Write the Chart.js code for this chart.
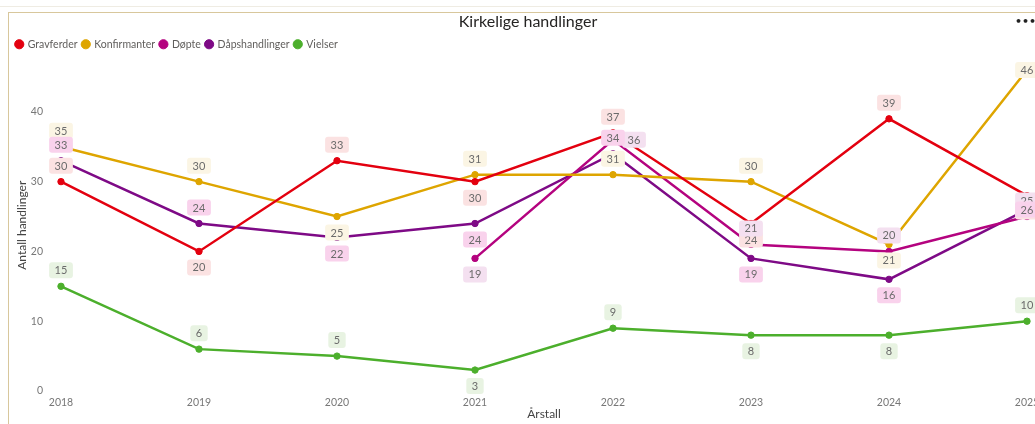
<!DOCTYPE html>
<html>
<head>
<meta charset="utf-8">
<script src="https://cdn.jsdelivr.net/npm/chart.js@4.4.1/dist/chart.umd.min.js"></script>
<style>
    html, body { margin: 0; padding: 0; background: #fff; width: 1035px; height: 424px; overflow: hidden; }
    .topline { position: absolute; left: 0; top: 6px; width: 1035px; height: 1px; background: #efece3; }
    .frame { position: absolute; left: 8px; top: 12px; width: 1100px; height: 500px;
             border-top: 1px solid #d8c79c; border-left: 1px solid #d8c79c; }
    .wrap { position: absolute; left: 9px; top: 13px; width: 1036px; height: 411px; }
    .more { position: absolute; left: 1015px; top: 15px; font: bold 11px "DejaVu Sans"; color: #222; letter-spacing: 0; }
</style>
</head>
<body>
<div class="topline"></div>
<div class="frame"></div>
<div class="wrap"><canvas id="chart"></canvas></div>
<div class="more">•••</div>
<script>
const years = ["2018", "2019", "2020", "2021", "2022", "2023", "2024", "2025"];
const gravferder = [30, 20, 33, 30, 37, 24, 39, 28];
const konfirmanter = [35, 30, 25, 31, 31, 30, 21, 46];
const dopte = [null, null, null, 19, 36, 21, 20, 25];
const daapshandlinger = [33, 24, 22, 24, 34, 19, 16, 26];
const vielser = [15, 6, 5, 3, 9, 8, 8, 10];
const yTicks = [0, 10, 20, 30, 40];

// where each value label sits: a = above, b = below, r = right, c = on the point
const sides = {
    gravferder: ["a", "b", "a", "b", "a", "b", "a", "b"],
    konfirmanter: ["a", "a", "b", "a", "a", "a", "b", "c"],
    dopte: ["a", "a", "a", "b", "r", "a", "a", "a"],
    daapshandlinger: ["a", "a", "b", "b", "a", "b", "b", "c"],
    vielser: ["a", "a", "a", "b", "a", "b", "b", "a"],
};

const FONT = "Lato, 'Open Sans', sans-serif";

function series(label, data, color, labelBg, labelSide) {
    return {
        label, data, labelBg, labelSide,
        borderColor: color,
        backgroundColor: color,
        pointBackgroundColor: color,
        pointBorderColor: color,
        borderWidth: 2.5,
        pointRadius: 3.2,
        pointBorderWidth: 1,
        tension: 0,
        spanGaps: false,
    };
}

const valueLabels = {
    id: "valueLabels",
    afterDatasetsDraw(chart) {
        const ctx = chart.ctx;
        ctx.save();
        ctx.font = "11px " + FONT;
        ctx.textAlign = "center";
        ctx.textBaseline = "middle";
        chart.data.datasets.forEach((ds, i) => {
            const meta = chart.getDatasetMeta(i);
            meta.data.forEach((pt, j) => {
                const v = ds.data[j];
                if (v === null || v === undefined) return;
                let x = pt.x, y = pt.y;
                const side = ds.labelSide[j];
                if (side === "a") y -= 16;
                else if (side === "b") y += 16;
                else if (side === "r") x += 21;
                const txt = String(v);
                const w = ctx.measureText(txt).width + 11;
                const h = 16;
                ctx.fillStyle = ds.labelBg;
                ctx.beginPath();
                ctx.roundRect(x - w / 2, y - h / 2, w, h, 3);
                ctx.fill();
                ctx.fillStyle = "#6b6b6b";
                ctx.fillText(txt, x, y + 0.5);
            });
        });
        ctx.restore();
    }
};

new Chart(document.getElementById("chart"), {
    type: "line",
    data: {
        labels: years,
        datasets: [
            series("Gravferder", gravferder, "#e3000f", "#fbe2e2", sides.gravferder),
            series("Konfirmanter", konfirmanter, "#dea500", "#fbf5e4", sides.konfirmanter),
            series("Døpte", dopte, "#b4037f", "#f4e0f0", sides.dopte),
            series("Dåpshandlinger", daapshandlinger, "#7e0a86", "#f9d2ec", sides.daapshandlinger),
            series("Vielser", vielser, "#4caf2c", "#e8f3e2", sides.vielser),
        ]
    },
    options: {
        responsive: true,
        maintainAspectRatio: false,
        animation: false,
        layout: { padding: { left: 2, right: 0, top: 0, bottom: 0 } },
        plugins: {
            title: {
                display: true,
                text: "Kirkelige handlinger",
                color: "#252423",
                font: { family: FONT, size: 16, weight: "normal", lineHeight: 1 },
                padding: { top: 1, bottom: 4 },
            },
            legend: {
                display: true,
                align: "start",
                labels: {
                    usePointStyle: true,
                    pointStyle: "circle",
                    boxWidth: 6.5,
                    boxHeight: 6.5,
                    padding: 5,
                    color: "#605e5c",
                    font: { family: FONT, size: 10.5 },
                }
            },
            tooltip: { enabled: false },
        },
        scales: {
            x: {
                offset: false,
                grid: { display: false, drawTicks: false },
                border: { display: false },
                ticks: { color: "#777", font: { family: FONT, size: 10.5 }, padding: 5, maxRotation: 0, autoSkip: false },
                title: { display: true, text: "Årstall", color: "#444", font: { family: FONT, size: 12 }, padding: { top: 0, bottom: 3 } },
                afterFit(s) { s.height = 33; s.paddingRight = 18; },
            },
            y: {
                min: 0,
                max: 47.5,
                grid: { display: false, drawTicks: false },
                border: { display: false },
                ticks: { color: "#777", font: { family: FONT, size: 10.5 }, padding: 18 },
                afterBuildTicks(s) { s.ticks = yTicks.map(v => ({ value: v })); },
                title: { display: true, text: "Antall handlinger", color: "#444", font: { family: FONT, size: 12 }, padding: { top: 4, bottom: 0 } },
                afterFit(s) { s.width = 50; },
            }
        }
    },
    plugins: [valueLabels]
});
</script>
</body>
</html>
